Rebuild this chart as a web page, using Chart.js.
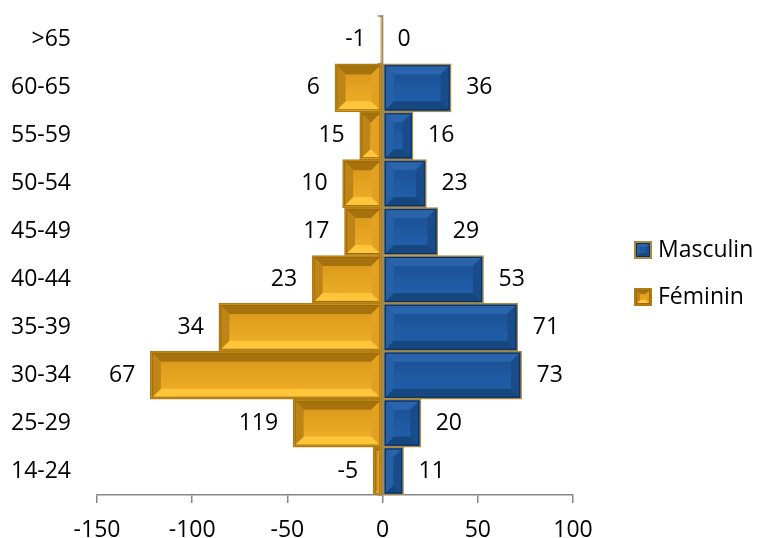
<!DOCTYPE html>
<html>
<head>
<meta charset="utf-8">
<script src="https://cdn.jsdelivr.net/npm/chart.js@4.4.1/dist/chart.umd.min.js"></script>
<style>
  body { margin: 0; background: #fff; }
  canvas { display: block; }
</style>
</head>
<body>
<canvas id="pyramid" width="757" height="538"></canvas>
<script>
const ages = [">65", "60-65", "55-59", "50-54", "45-49", "40-44", "35-39", "30-34", "25-29", "14-24"];
const masculin = [0, 36, 16, 23, 29, 53, 71, 73, 20, 11];
const feminin = [-1, -25, -12, -21, -20, -37, -86, -122, -47, -5];
// texte écrit à côté des barres féminines
const femininLabels = ["-1", "6", "15", "10", "17", "23", "34", "67", "119", "-5"];
const xRange = [-150, 100];
const xStep = 50;

// couleurs du biseau (bleu puis or)
const palettes = [
  { faceTop: "#1B4F92", faceBottom: "#2262AE", top: "#2A64AC", bottom: "#17477F",
    left: "#2660A6", right: "#1A4C8A", inner: "#0E2F5C" },
  { faceTop: "#D69619", faceBottom: "#F2B028", top: "#A6720D", bottom: "#FFC63B",
    left: "#BE8415", right: "#E2A122", inner: "#9A6A0A" }
];

const poly = (ctx, pts, color) => {
  ctx.beginPath();
  ctx.moveTo(pts[0][0], pts[0][1]);
  pts.slice(1).forEach(p => ctx.lineTo(p[0], p[1]));
  ctx.closePath();
  ctx.fillStyle = color;
  ctx.fill();
};

const drawBevel = (ctx, l, t, r, b, pal, size) => {
  const w = r - l, h = b - t;
  if (w < 2 || h < 2) return;
  const d = Math.min(size, w / 2, h / 2);
  const face = ctx.createLinearGradient(0, t, 0, b);
  face.addColorStop(0, pal.faceTop);
  face.addColorStop(1, pal.faceBottom);
  ctx.fillStyle = face;
  ctx.fillRect(l, t, w, h);
  poly(ctx, [[l, t], [r, t], [r - d, t + d], [l + d, t + d]], pal.top);
  poly(ctx, [[l, b], [r, b], [r - d, b - d], [l + d, b - d]], pal.bottom);
  poly(ctx, [[l, t], [l + d, t + d], [l + d, b - d], [l, b]], pal.left);
  poly(ctx, [[r, t], [r - d, t + d], [r - d, b - d], [r, b]], pal.right);
  ctx.strokeStyle = pal.inner;
  ctx.lineWidth = 1;
  ctx.strokeRect(l + 0.5, t + 0.5, w - 1, h - 1);
};

const bevelBars = {
  id: "bevelBars",
  afterDatasetDraw(chart, args) {
    const ctx = chart.ctx;
    const pal = palettes[args.index];
    ctx.save();
    args.meta.data.forEach(bar => {
      const { x, y, base, height } = bar.getProps(["x", "y", "base", "height"], true);
      const bw = bar.options.borderWidth;
      const l = Math.min(x, base) + bw, r = Math.max(x, base) - bw;
      const t = y - height / 2 + bw, b = y + height / 2 - bw;
      drawBevel(ctx, l, t, r, b, pal, 9);
    });
    ctx.restore();
  }
};

// axe vertical au zéro, par-dessus les barres
const zeroAxis = {
  id: "zeroAxis",
  beforeDatasetsDraw(chart) {
    const { ctx, chartArea, scales } = chart;
    const x0 = scales.x.getPixelForValue(0);
    ctx.save();
    ctx.strokeStyle = "#8C8C8C";
    ctx.lineWidth = 1.5;
    for (let i = 0; i <= ages.length; i++) {
      const yy = chartArea.top + (chartArea.bottom - chartArea.top) * i / ages.length;
      ctx.beginPath();
      ctx.moveTo(x0 - 5, yy);
      ctx.lineTo(x0, yy);
      ctx.stroke();
    }
    ctx.restore();
  },
  afterDatasetsDraw(chart) {
    const { ctx, chartArea, scales } = chart;
    const x0 = scales.x.getPixelForValue(0);
    ctx.save();
    ctx.strokeStyle = "#8C8C8C";
    ctx.lineWidth = 1.5;
    ctx.beginPath();
    ctx.moveTo(x0, chartArea.top - 1);
    ctx.lineTo(x0, chartArea.bottom);
    ctx.stroke();
    ctx.restore();
  }
};

const valueLabels = {
  id: "valueLabels",
  afterDatasetsDraw(chart) {
    const ctx = chart.ctx;
    ctx.save();
    ctx.font = "23px 'Open Sans', sans-serif";
    ctx.fillStyle = "#000";
    ctx.textBaseline = "middle";
    chart.data.datasets.forEach((ds, di) => {
      chart.getDatasetMeta(di).data.forEach((bar, i) => {
        const { x, y, base } = bar.getProps(["x", "y", "base"], true);
        if (di === 0) {
          ctx.textAlign = "left";
          ctx.fillText(String(masculin[i]), Math.max(x, base) + 15, y);
        } else {
          ctx.textAlign = "right";
          ctx.fillText(femininLabels[i], Math.min(x, base) - 15, y);
        }
      });
    });
    ctx.restore();
  }
};

// légende à droite, boîtes biseautées
const sideLegend = {
  id: "sideLegend",
  afterDraw(chart) {
    const ctx = chart.ctx;
    const borders = ["#A8893F", "#B07D12"];
    ctx.save();
    ctx.font = "23px 'Open Sans', sans-serif";
    ctx.textBaseline = "middle";
    ctx.textAlign = "left";
    chart.data.datasets.forEach((ds, i) => {
      const cy = 250 + i * 47;
      ctx.fillStyle = borders[i];
      ctx.fillRect(634, cy - 9, 18, 18);
      drawBevel(ctx, 636, cy - 7, 650, cy + 7, palettes[i], 4);
      ctx.fillStyle = "#000";
      ctx.fillText(ds.label, 658, cy);
    });
    ctx.restore();
  }
};

Chart.defaults.font.family = "'Open Sans', sans-serif";
Chart.defaults.font.size = 23;
Chart.defaults.color = "#000";

new Chart(document.getElementById("pyramid"), {
  type: "bar",
  data: {
    labels: ages,
    datasets: [
      {
        label: "Masculin",
        data: masculin,
        backgroundColor: "#1F5AA2",
        borderColor: "#A8893F",
        borderWidth: 1.5,
        borderSkipped: false,
        barPercentage: 1,
        categoryPercentage: 1
      },
      {
        label: "Féminin",
        data: feminin,
        backgroundColor: "#EBAA25",
        borderColor: "#B07D12",
        borderWidth: 1.5,
        borderSkipped: false,
        barPercentage: 1,
        categoryPercentage: 1
      }
    ]
  },
  options: {
    indexAxis: "y",
    responsive: false,
    animation: false,
    devicePixelRatio: 1,
    layout: { padding: { top: 16, right: 184, bottom: 0, left: 0 } },
    plugins: {
      legend: { display: false },
      tooltip: { enabled: false }
    },
    scales: {
      x: {
        stacked: true,
        min: xRange[0],
        max: xRange[1],
        ticks: { stepSize: xStep, padding: 14 },
        grid: { drawOnChartArea: false, drawTicks: true, tickLength: 8, color: "#868686", lineWidth: 1.5 },
        border: { color: "#868686", width: 1.5 },
        afterFit: s => { s.height = 43; }
      },
      y: {
        stacked: true,
        grid: { display: false, drawTicks: false, tickLength: 0 },
        border: { display: false },
        ticks: { padding: 26 },
        // la marge des étiquettes ne doit pas décaler le haut de la zone
        afterFit: s => {
          s.width = 97;
          s.paddingTop = 0;
          s.paddingBottom = 0;
        }
      }
    }
  },
  plugins: [zeroAxis, bevelBars, valueLabels, sideLegend]
});
</script>
</body>
</html>
